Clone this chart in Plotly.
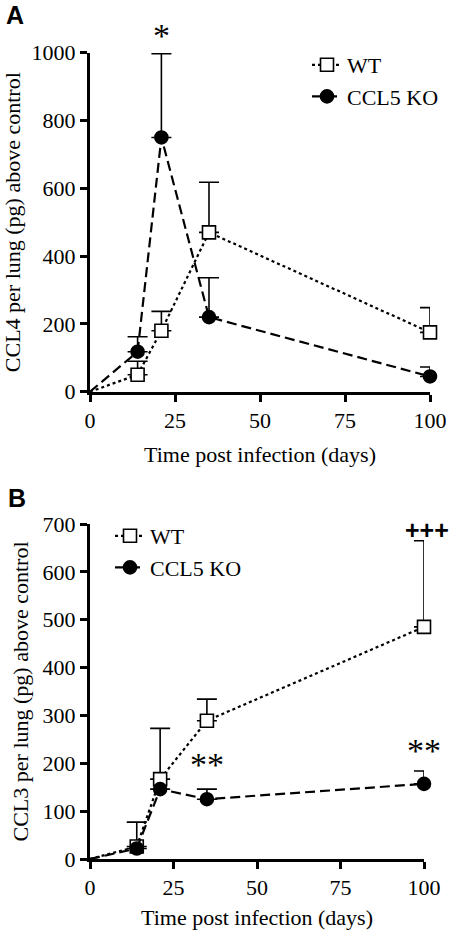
import plotly.graph_objects as go

# ---- data ----
DAYS = [0, 14, 21, 35, 100]

CCL4_WT = [0, 50, 180, 470, 175]
CCL4_WT_ERR = [None, 40, 57, 148, 73]
CCL4_KO = [0, 118, 750, 220, 45]
CCL4_KO_ERR = [None, 44, 247, 116, 28]

CCL3_WT = [0, 26, 167, 289, 485]
CCL3_WT_ERR = [None, 51, 106, 45, 180]
CCL3_KO = [0, 22, 146, 125, 157]
CCL3_KO_ERR = [None, None, None, 21, 27]

X_TICKS = [0, 25, 50, 75, 100]
A_Y_TICKS = [0, 200, 400, 600, 800, 1000]
B_Y_TICKS = [0, 100, 200, 300, 400, 500, 600, 700]

SERIF = "Liberation Serif, Times New Roman, serif"
SANS = "Liberation Sans, Arial, sans-serif"
W, H = 450, 930

def px(y):  # pixel row -> paper fraction
    return (H - y) / H

fig = go.Figure()

WT_DASH = "3px,3px"
KO_DASH = "10px,5px"

def add_series(xa, ya, y, err, name, dash, symbol, fill, legend):
    # first segment from origin (no marker)
    fig.add_trace(go.Scatter(
        x=DAYS[:2], y=y[:2], mode="lines", xaxis=xa, yaxis=ya,
        line=dict(color="black", width=2.2, dash=dash),
        showlegend=False, hoverinfo="skip", cliponaxis=False))
    fig.add_trace(go.Scatter(
        x=DAYS[1:], y=y[1:], mode="lines+markers", name=name,
        xaxis=xa, yaxis=ya, legend=legend,
        line=dict(color="black", width=2.2, dash=dash),
        marker=dict(symbol=symbol, size=13, color=fill,
                    line=dict(color="black", width=1.6)),
        error_y=dict(type="data", symmetric=False, array=err[1:],
                     arrayminus=[0 if e is not None else None for e in err[1:]],
                     color="black", thickness=1.6, width=10),
        cliponaxis=False))

add_series("x", "y", CCL4_WT, CCL4_WT_ERR, "WT", WT_DASH, "square", "white", "legend")
add_series("x", "y", CCL4_KO, CCL4_KO_ERR, "CCL5 KO", KO_DASH, "circle", "black", "legend")
add_series("x2", "y2", CCL3_WT, CCL3_WT_ERR, "WT", WT_DASH, "square", "white", "legend2")
add_series("x2", "y2", CCL3_KO, CCL3_KO_ERR, "CCL5 KO", KO_DASH, "circle", "black", "legend2")

axis_common = dict(
    showline=True, linecolor="black", linewidth=3, mirror=False,
    ticks="outside", ticklen=7, tickwidth=2.5, tickcolor="black",
    showgrid=False, zeroline=False, automargin=False,
    tickfont=dict(family=SERIF, size=22, color="black"),
)

fig.update_layout(
    template="none",
    width=W, height=H,
    margin=dict(l=0, r=0, t=0, b=0),
    paper_bgcolor="white", plot_bgcolor="white",
    font=dict(family=SERIF, color="black"),
    xaxis=dict(domain=[90 / W, 430 / W], range=[0, 100], tickvals=X_TICKS,
               anchor="y",
               title=dict(text="Time post infection (days)", standoff=15,
                          font=dict(family=SERIF, size=22)),
               **axis_common),
    yaxis=dict(domain=[px(391.7), px(52.7)], range=[0, 1000], tickvals=A_Y_TICKS,
               anchor="x",
               title=dict(text="CCL4 per lung (pg) above control", standoff=8,
                          font=dict(family=SERIF, size=22)),
               **axis_common),
    xaxis2=dict(domain=[90 / W, 424 / W], range=[0, 100], tickvals=X_TICKS,
                anchor="y2",
                title=dict(text="Time post infection (days)", standoff=15,
                           font=dict(family=SERIF, size=22)),
                **axis_common),
    yaxis2=dict(domain=[px(859), px(524)], range=[0, 700], tickvals=B_Y_TICKS,
                anchor="x2",
                title=dict(text="CCL3 per lung (pg) above control", standoff=8,
                           font=dict(family=SERIF, size=22)),
                **axis_common),
    legend=dict(x=307 / W, y=px(44), xanchor="left", yanchor="top",
                bgcolor="rgba(0,0,0,0)", itemwidth=30, tracegroupgap=0,
                font=dict(family=SERIF, size=22, color="black")),
    legend2=dict(x=110 / W, y=px(515), xanchor="left", yanchor="top",
                 bgcolor="rgba(0,0,0,0)", itemwidth=30, tracegroupgap=0,
                 font=dict(family=SERIF, size=22, color="black")),
)

# significance marks
fig.add_annotation(x=21, y=px(36), xref="x", yref="paper", text="*", showarrow=False,
                   font=dict(family=SERIF, size=34, color="black"),
                   xanchor="center", yanchor="middle")
fig.add_annotation(x=35, y=198, xref="x2", yref="y2", text="**", showarrow=False,
                   font=dict(family=SERIF, size=34, color="black"),
                   xanchor="center", yanchor="middle")
fig.add_annotation(x=100, y=226, xref="x2", yref="y2", text="**", showarrow=False,
                   font=dict(family=SERIF, size=34, color="black"),
                   xanchor="center", yanchor="middle")
fig.add_annotation(x=100, y=688, xref="x2", yref="y2", text="<b>+++</b>", showarrow=False,
                   font=dict(family=SANS, size=25, color="black"),
                   xanchor="center", yanchor="middle", xshift=3)

# panel labels
fig.add_annotation(x=15 / W, y=px(15), xref="paper", yref="paper", text="<b>A</b>",
                   showarrow=False, xanchor="center", yanchor="middle",
                   font=dict(family=SANS, size=25, color="black"))
fig.add_annotation(x=17 / W, y=px(498), xref="paper", yref="paper", text="<b>B</b>",
                   showarrow=False, xanchor="center", yanchor="middle",
                   font=dict(family=SANS, size=25, color="black"))

fig.write_html("out.html", config={"displayModeBar": False},
               post_script="document.body.style.margin='0';document.body.style.padding='0';document.body.style.overflow='hidden';")
